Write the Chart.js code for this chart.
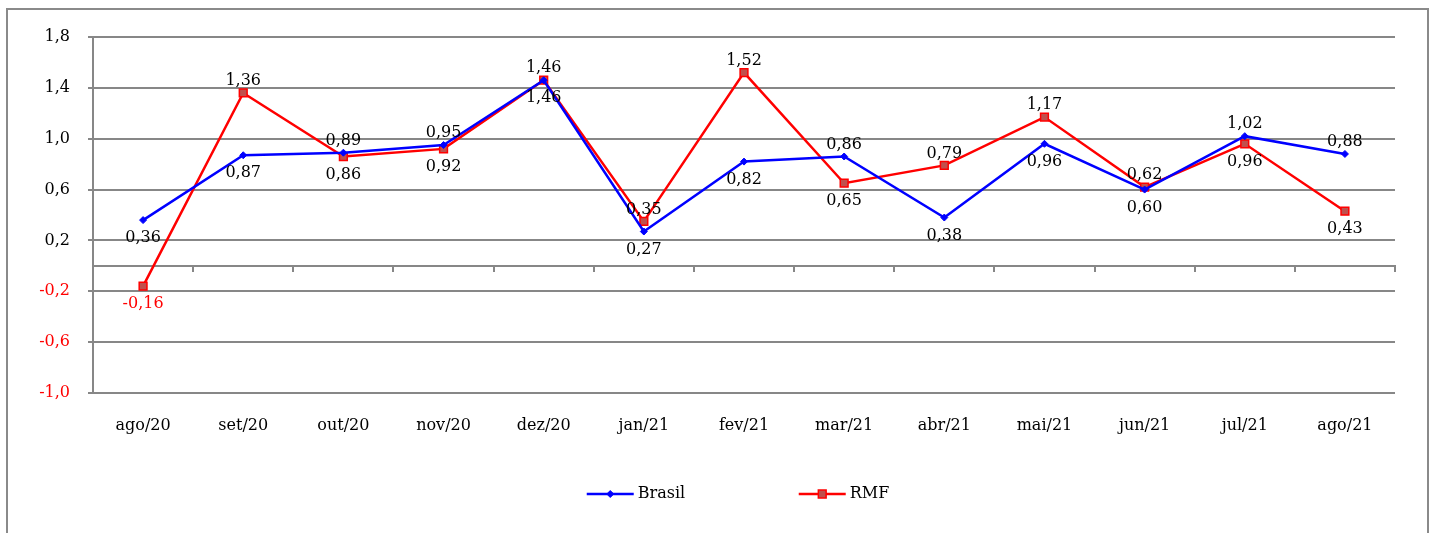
<!DOCTYPE html>
<html>
<head>
<meta charset="utf-8">
<script src="https://cdn.jsdelivr.net/npm/chart.js@4/dist/chart.umd.min.js"></script>
<style>
  html, body { margin: 0; padding: 0; background: #fff; overflow: hidden; }
  #wrap { position: relative; width: 1437px; height: 533px; }
  #frame {
    position: absolute; left: 6px; top: 8px; width: 1423px; height: 560px;
    border: 2px solid #8a8a8a; pointer-events: none; box-sizing: border-box;
  }
  canvas { position: absolute; left: 0; top: 0; }
</style>
</head>
<body>
<div id="wrap">
  <canvas id="chart" width="1437" height="533"></canvas>
  <div id="frame"></div>
</div>
<script>
// Monthly variation (%), Aug/2020 – Aug/2021
const categories = ['ago/20', 'set/20', 'out/20', 'nov/20', 'dez/20', 'jan/21', 'fev/21',
                    'mar/21', 'abr/21', 'mai/21', 'jun/21', 'jul/21', 'ago/21'];
const brasil = [0.36, 0.87, 0.89, 0.95, 1.46, 0.27, 0.82, 0.86, 0.38, 0.96, 0.60, 1.02, 0.88];
const rmf    = [-0.16, 1.36, 0.86, 0.92, 1.46, 0.35, 1.52, 0.65, 0.79, 1.17, 0.62, 0.96, 0.43];
const yTickValues = [-1.0, -0.6, -0.2, 0.2, 0.6, 1.0, 1.4, 1.8];

const FONT = 'DejaVu Serif';
const GRID = '#878787';
const BLUE = '#0000ff';
const RED = '#ff0000';
const RED_FILL = '#c0504d';

const fmt = v => v.toFixed(2).replace('.', ',');
const fmtTick = v => v.toFixed(1).replace('.', ',');

// Value labels printed next to each marker
const valueLabels = {
  id: 'valueLabels',
  afterDatasetsDraw(chart) {
    const ctx = chart.ctx;
    ctx.save();
    ctx.font = '16px "' + FONT + '"';
    ctx.textAlign = 'center';
    ctx.textBaseline = 'middle';
    chart.data.datasets.forEach((ds, i) => {
      const meta = chart.getDatasetMeta(i);
      meta.data.forEach((pt, j) => {
        const v = ds.data[j];
        const above = ds.labelPlacement[j] === 'above';
        ctx.fillStyle = v < 0 ? RED : '#000';
        ctx.fillText(fmt(v), pt.x, pt.y + (above ? -12 : 18));
      });
    });
    ctx.restore();
  }
};

// Legend: line segment with marker, followed by the series name
const lineLegend = {
  id: 'lineLegend',
  afterDraw(chart) {
    const ctx = chart.ctx;
    const area = chart.chartArea;
    const y = 494;
    const seg = 47, gapText = 4, slot = 212;
    ctx.save();
    ctx.font = '16px "' + FONT + '"';
    ctx.textBaseline = 'middle';
    ctx.textAlign = 'left';
    const sets = chart.data.datasets;
    const lastW = seg + gapText + ctx.measureText(sets[sets.length - 1].label).width;
    const total = slot * (sets.length - 1) + lastW;
    let x = (area.left + area.right) / 2 - 6 - total / 2;
    sets.forEach(ds => {
      ctx.strokeStyle = ds.borderColor;
      ctx.lineWidth = ds.borderWidth;
      ctx.beginPath();
      ctx.moveTo(x, y);
      ctx.lineTo(x + seg, y);
      ctx.stroke();
      const cx = x + seg / 2;
      ctx.fillStyle = ds.pointBackgroundColor;
      ctx.strokeStyle = ds.pointBorderColor;
      ctx.lineWidth = ds.pointBorderWidth;
      Chart.helpers.drawPoint(ctx, {
        pointStyle: ds.pointStyle,
        radius: ds.pointRadius,
        borderWidth: ds.pointBorderWidth,
        rotation: 0
      }, cx, y);
      ctx.fillStyle = '#000';
      ctx.fillText(ds.label, x + seg + gapText, y);
      x += slot;
    });
    ctx.restore();
  }
};

new Chart(document.getElementById('chart'), {
  type: 'line',
  data: {
    labels: categories,
    datasets: [
      {
        label: 'Brasil',
        data: brasil,
        borderColor: BLUE,
        borderWidth: 2.5,
        pointStyle: 'rectRot',
        pointRadius: 3.5,
        pointBackgroundColor: BLUE,
        pointBorderColor: BLUE,
        pointBorderWidth: 1,
        tension: 0,
        labelPlacement: ['below', 'below', 'above', 'above', 'below', 'below', 'below',
                         'above', 'below', 'below', 'below', 'above', 'above']
      },
      {
        label: 'RMF',
        data: rmf,
        borderColor: RED,
        borderWidth: 2.5,
        pointStyle: 'rect',
        pointRadius: 5.5,
        pointBackgroundColor: RED_FILL,
        pointBorderColor: RED,
        pointBorderWidth: 1.5,
        tension: 0,
        labelPlacement: ['below', 'above', 'below', 'below', 'above', 'above', 'above',
                         'below', 'above', 'above', 'above', 'below', 'below']
      }
    ]
  },
  options: {
    responsive: false,
    animation: false,
    devicePixelRatio: 1,
    layout: { padding: { left: 33, right: 42, top: 37, bottom: 90 } },
    plugins: {
      legend: { display: false },
      tooltip: { enabled: false }
    },
    scales: {
      x: {
        type: 'category',
        position: 'bottom',
        offset: true,
        grid: { display: false },
        border: { display: false },
        ticks: {
          color: '#000',
          padding: 15,
          maxRotation: 0,
          autoSkip: false,
          font: { family: FONT, size: 16 }
        },
        afterFit(scale) { scale.height = 50; }
      },
      x2: {
        type: 'category',
        position: { y: 0 },
        offset: true,
        grid: {
          offset: true,
          drawOnChartArea: false,
          drawTicks: true,
          tickLength: 5,
          color: GRID,
          lineWidth: 2
        },
        border: { display: true, color: GRID, width: 2 },
        ticks: { display: false }
      },
      y: {
        min: -1.0,
        max: 1.8,
        afterBuildTicks(scale) { scale.ticks = yTickValues.map(v => ({ value: v })); },
        grid: { color: GRID, lineWidth: 2, tickLength: 5, drawTicks: true },
        border: { display: true, color: GRID, width: 2 },
        ticks: {
          padding: 18,
          font: { family: FONT, size: 16 },
          color: ctx => (ctx.tick && ctx.tick.value < 0 ? RED : '#000'),
          callback: v => fmtTick(v)
        },
        afterFit(scale) { scale.width = 60; }
      }
    }
  },
  plugins: [valueLabels, lineLegend]
});
</script>
</body>
</html>
